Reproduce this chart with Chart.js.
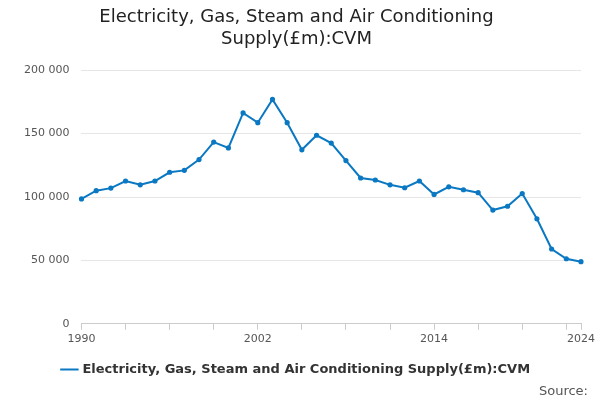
<!DOCTYPE html>
<html><head><meta charset="utf-8">
<script src="https://cdn.jsdelivr.net/npm/chart.js@4"></script>
<style>body{margin:0;background:#fff}#w{position:relative;width:600px;height:400px}
#src{position:absolute;right:12px;bottom:2px;font:13px "DejaVu Sans",sans-serif;color:#555}</style>
</head><body><div id="w"><canvas id="c" width="600" height="400"></canvas><div id="src">Source:</div></div>
<script>
const years=[];for(let y=1990;y<=2024;y++)years.push(String(y));
const values=[98500,105000,107000,112600,109600,112600,119500,121000,129500,143300,138700,166300,158600,177000,158600,137200,148700,142500,128700,115000,113400,109600,107300,112600,102000,108000,105700,103400,89700,92700,102700,82800,59000,51300,49000];
const shownLabels=["1990","2002","2014","2024"];
const fmt=v=>String(v).replace(/\B(?=(\d{3})+(?!\d))/g," ");
new Chart(document.getElementById('c'),{type:'line',
data:{labels:years,datasets:[{label:'Electricity, Gas, Steam and Air Conditioning Supply(£m):CVM',data:values,borderColor:'#0a78c2',backgroundColor:'#0a78c2',borderWidth:2,pointRadius:1.6,pointHoverRadius:3,tension:0}]},
options:{responsive:false,animation:false,layout:{padding:{left:12,right:19,bottom:14}},
plugins:{title:{display:true,text:['Electricity, Gas, Steam and Air Conditioning','Supply(£m):CVM'],font:{family:'DejaVu Sans',size:18,weight:'normal'},color:'#222',padding:{top:7,bottom:20}},
legend:{position:'bottom',align:'center',labels:{usePointStyle:true,pointStyle:'line',boxWidth:20,padding:14,font:{family:'DejaVu Sans',size:13,weight:'bold'},color:'#333'}}},
scales:{x:{grid:{drawOnChartArea:false,tickLength:6,color:(c)=>{const i=c.index;return (i%3===0||i===34)?'#ccc':'rgba(0,0,0,0)'}},border:{color:'#ccc'},
ticks:{autoSkip:false,maxRotation:0,font:{family:'DejaVu Sans',size:11},color:'#555',callback:function(v,i){const l=years[i];return shownLabels.includes(l)?l:''}}},
y:{min:0,max:200000,ticks:{stepSize:50000,font:{family:'DejaVu Sans',size:11},color:'#555',padding:12,callback:v=>fmt(v)},grid:{color:'#e6e6e6',drawTicks:false},border:{display:false}}}}});
</script></body></html>
